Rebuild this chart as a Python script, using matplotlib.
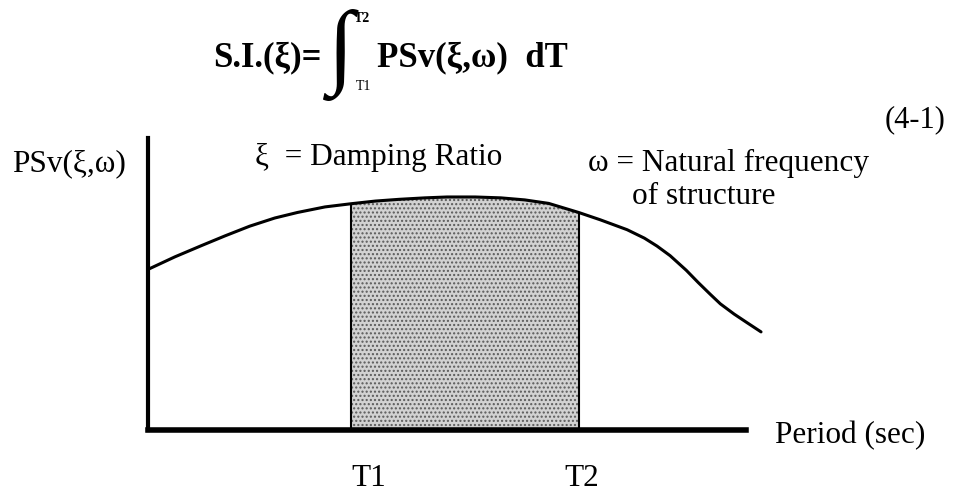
import numpy as np
import matplotlib.pyplot as plt

plt.rcParams['font.family'] = ['Liberation Serif', 'DejaVu Serif']

# spectrum curve read along the period axis
period = [0.0, 0.45, 0.9, 1.29, 1.7, 2.12, 2.5, 2.96, 3.4, 3.8, 4.2, 4.63, 5.0, 5.47,
          5.9, 6.3, 6.7, 7.2, 7.56, 8.01, 8.3, 8.51, 8.73, 9.0, 9.2, 9.4, 9.57, 9.8,
          10.02, 10.25]
psv = [5.5, 5.93, 6.32, 6.65, 6.98, 7.26, 7.45, 7.64, 7.75, 7.84, 7.9, 7.95, 7.98, 7.98,
       7.95, 7.88, 7.76, 7.45, 7.2, 6.86, 6.57, 6.3, 5.97, 5.47, 5.05, 4.65, 4.32, 3.97,
       3.67, 3.36]
T1, T2 = 3.4, 7.2
t_labels = ['T1', 'T2']

W, H = 961, 495
fig = plt.figure(figsize=(W / 100, H / 100), dpi=100)


def px(x, y):
    # pixel position -> figure fraction
    return x / W, 1 - y / H


ax = fig.add_axes([148 / W, 1 - 430 / H, (770 - 148) / W, (430 - 138) / H])
ax.set_xlim(0, 10.4)
ax.set_ylim(0, 10)
ax.set_xticks([])
ax.set_yticks([])
ax.spines['top'].set_visible(False)
ax.spines['right'].set_visible(False)
ax.spines['left'].set_linewidth(3)
ax.spines['bottom'].set_linewidth(4)
ax.spines['bottom'].set_bounds(0, 10.0)
ax.patch.set_alpha(0)

p = np.array(period)
v = np.array(psv)
m = (p >= T1) & (p <= T2)
plt.rcParams['hatch.linewidth'] = 1.0
ax.fill_between(p[m], 0, v[m], facecolor='#d2d2d2', edgecolor='#5a5a5a',
                hatch='....', linewidth=0)
ax.vlines([T1, T2], 0, [v[p == T1][0], v[p == T2][0]], color='black', lw=1.5)
ax.plot(p, v, color='black', lw=2.2, clip_on=False, solid_capstyle='round',
        solid_joinstyle='round')

# formula
fs = 25
fig.text(*px(213, 58), 'S.I.(ξ)=', fontsize=fs, fontweight='bold', va='center')
fig.text(*px(341, 55), '∫', fontsize=68, va='center', ha='center')
fig.text(*px(354, 19), 'T2', fontsize=10, fontweight='bold', va='center')
fig.text(*px(356, 87), 'T1', fontsize=10, va='center')
fig.text(*px(377, 58), 'PSv(ξ,ω)  dT', fontsize=fs, fontweight='bold', va='center')
fig.text(*px(946, 120), '(4-1)', fontsize=22, va='center', ha='right')

fs = 22.5
fig.text(*px(12, 164), 'PSv(ξ,ω)', fontsize=fs, va='center')
fig.text(*px(255, 158), 'ξ  = Damping Ratio', fontsize=fs, va='center')
fig.text(*px(588, 163), 'ω = Natural frequency', fontsize=fs, va='center')
fig.text(*px(632, 196), 'of structure', fontsize=fs, va='center')
fig.text(*px(775, 436), 'Period (sec)', fontsize=fs, va='center')
for t, lab, dx in zip([T1, T2], t_labels, [0, -14]):
    x_fig = ax.transData.transform((t, 0))[0] + dx
    fig.text(x_fig / W, 1 - 479 / H, lab, fontsize=fs, va='center', ha='left')

fig.savefig('out.png', dpi=100)
